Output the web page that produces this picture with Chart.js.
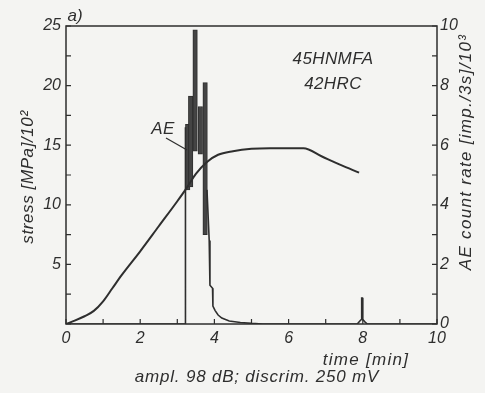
<!DOCTYPE html>
<html>
<head>
<meta charset="utf-8">
<script src="https://cdn.jsdelivr.net/npm/chart.js@4.4.1/dist/chart.umd.min.js"></script>
<style>
  html, body { margin: 0; background: #f4f4f2; }
  #wrap { width: 485px; height: 393px; }
</style>
</head>
<body>
<div id="wrap"><canvas id="chart"></canvas></div>
<script>
// stress vs time (left axis, MPa/100)
const stressTime = [0, 0.25, 0.5, 0.75, 1.0, 1.25, 1.5, 2.0, 2.5, 3.0, 3.25, 3.5, 3.8, 4.1, 4.5, 5.0, 5.5, 6.0, 6.4, 6.9, 7.4, 7.9];
const stressValues = [0, 0.3, 0.65, 1.1, 1.9, 3.0, 4.1, 6.1, 8.2, 10.3, 11.4, 12.6, 13.6, 14.2, 14.5, 14.7, 14.75, 14.75, 14.75, 14.05, 13.35, 12.7];

// AE count rate trace (right axis, imp./3s /1000); null breaks the pen line
const aeTime = [0, 3.22, 3.22, 3.5, 3.8, 3.86, 3.88, 3.95, 3.96, 4.02, 4.1, 4.2, 4.4, 4.7, 5.0, 5.3, 7.85, 7.92, 7.96, 7.97, 7.99, 8.0, 8.05, 8.12, 10];
const aeValues = [0, 0, 6.6, null, 4.5, 2.8, 1.3, 1.2, 0.6, 0.45, 0.3, 0.2, 0.1, 0.05, 0.02, 0, 0, 0.1, 0.15, 0.87, 0.87, 0.15, 0.08, 0, 0];

// bursts of the AE rate, drawn as min..max envelopes
const burstTime = [3.28, 3.36, 3.48, 3.62, 3.75];
const burstLow = [4.5, 4.6, 5.8, 5.7, 3.0];
const burstHigh = [6.7, 7.65, 9.87, 7.3, 8.1];

const ink = '#2e2e2e';
const tickFont = { family: 'Liberation Sans', style: 'italic', size: 16 };

function text(ctx, str, x, y, spacing, angle) {
  ctx.save();
  ctx.letterSpacing = spacing + 'px';
  ctx.translate(x, y);
  if (angle) ctx.rotate(angle);
  ctx.fillText(str, 0, 0);
  ctx.restore();
}

const labels = {
  id: 'labels',
  afterDatasetsDraw(chart) {
    const { ctx, chartArea: a, scales } = chart;
    ctx.save();
    ctx.strokeStyle = ink;
    ctx.lineWidth = 1.5;
    ctx.strokeRect(a.left, a.top, a.right - a.left, a.bottom - a.top);

    // inward tick marks
    ctx.lineWidth = 1.2;
    ctx.beginPath();
    scales.x.ticks.forEach(t => {
      const px = scales.x.getPixelForValue(t.value);
      ctx.moveTo(px, a.bottom); ctx.lineTo(px, a.bottom - 5);
    });
    scales.y.ticks.forEach(t => {
      const py = scales.y.getPixelForValue(t.value);
      ctx.moveTo(a.left, py); ctx.lineTo(a.left + 5, py);
    });
    scales.y1.ticks.forEach(t => {
      const py = scales.y1.getPixelForValue(t.value);
      ctx.moveTo(a.right, py); ctx.lineTo(a.right - 5, py);
    });
    ctx.stroke();

    // AE leader line
    ctx.beginPath();
    ctx.moveTo(166, 138); ctx.lineTo(187, 150);
    ctx.stroke();

    ctx.fillStyle = ink;
    ctx.textBaseline = 'middle';
    ctx.textAlign = 'center';
    ctx.font = 'italic 17px "Liberation Sans"';
    text(ctx, 'a)', 75, 16, 0);
    text(ctx, '45HNMFA', 333, 59, 0.4);
    text(ctx, '42HRC', 333, 84, 0.4);
    text(ctx, 'AE', 163, 129, 0.5);
    text(ctx, 'time [min]', 366, 360, 1.3);
    text(ctx, 'ampl. 98 dB; discrim. 250 mV', 257, 377, 0.8);
    text(ctx, 'stress [MPa]/10²', 28, 177, 0.6, -Math.PI / 2);
    text(ctx, 'AE count rate [imp./3s]/10³', 466, 152, 1.3, -Math.PI / 2);
    ctx.restore();
  }
};

new Chart(document.getElementById('chart'), {
  type: 'line',
  data: {
    datasets: [
      {
        label: 'stress',
        data: stressTime.map((t, i) => ({ x: t, y: stressValues[i] })),
        yAxisID: 'y',
        borderColor: ink,
        borderWidth: 2,
        pointRadius: 0,
        cubicInterpolationMode: 'monotone',
      },
      {
        label: 'AE',
        data: aeTime.map((t, i) => ({ x: t, y: aeValues[i] })),
        yAxisID: 'y1',
        borderColor: ink,
        borderWidth: 1.6,
        pointRadius: 0,
        spanGaps: false,
        tension: 0,
      },
      {
        type: 'bar',
        label: 'AE bursts',
        data: burstTime.map((t, i) => ({ x: t, y: [burstLow[i], burstHigh[i]] })),
        yAxisID: 'y1',
        backgroundColor: '#444',
        borderColor: ink,
        borderWidth: 1,
        borderSkipped: false,
        barThickness: 4.5,
        grouped: false,
      },
    ],
  },
  options: {
    responsive: true,
    maintainAspectRatio: false,
    animation: false,
    layout: { padding: { top: 26 } },
    plugins: {
      legend: { display: false },
      tooltip: { enabled: false },
    },
    scales: {
      x: {
        type: 'linear',
        min: 0,
        max: 10,
        offset: false,
        grid: { display: false, drawTicks: false, offset: false },
        border: { display: false },
        ticks: {
          stepSize: 1,
          padding: 5,
          maxRotation: 0,
          autoSkip: false,
          color: ink,
          font: tickFont,
          callback: v => (v % 2 === 0 ? v : ''),
        },
        afterFit: s => { s.height = 69; },
      },
      y: {
        position: 'left',
        min: 0,
        max: 25,
        grid: { display: false, drawTicks: false },
        border: { display: false },
        ticks: {
          stepSize: 2.5,
          padding: 5,
          autoSkip: false,
          color: ink,
          font: tickFont,
          callback: v => (v > 0 && v % 5 === 0 ? v : ''),
        },
        afterFit: s => { s.width = 66; },
      },
      y1: {
        position: 'right',
        min: 0,
        max: 10,
        grid: { display: false, drawTicks: false },
        border: { display: false },
        ticks: {
          stepSize: 1,
          padding: 3,
          autoSkip: false,
          color: ink,
          font: tickFont,
          callback: v => (v % 2 === 0 ? v : ''),
        },
        afterFit: s => { s.width = 48; },
      },
    },
  },
  plugins: [labels],
});
</script>
</body>
</html>
